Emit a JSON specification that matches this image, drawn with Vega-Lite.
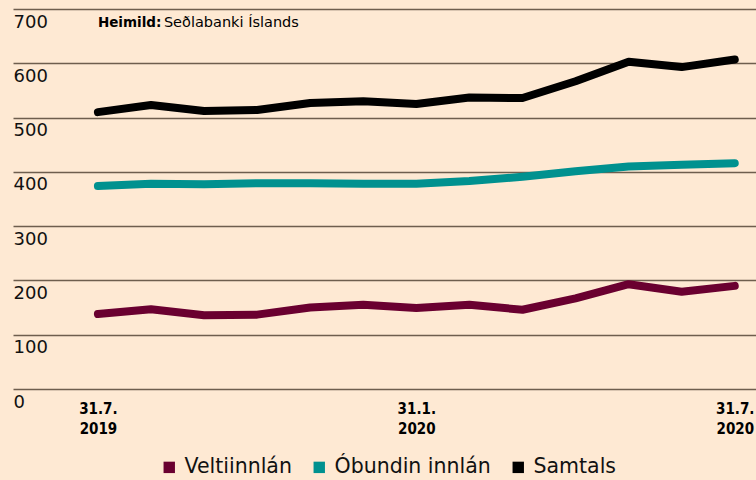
{
  "$schema": "https://vega.github.io/schema/vega-lite/v6.json",
  "width": 743,
  "height": 380,
  "autosize": {"type": "none"},
  "padding": {"left": 13, "top": 9, "right": 0, "bottom": 91},
  "background": "#fee9d3",
  "config": {"view": {"stroke": null}, "font": "DejaVu Sans"},
  "datasets": {
    "innlan": [
      {"m": 0, "dags": "31.7.2019", "flokkur": "Veltiinnlán", "ma": 138},
      {"m": 1, "dags": "31.8.2019", "flokkur": "Veltiinnlán", "ma": 147},
      {"m": 2, "dags": "30.9.2019", "flokkur": "Veltiinnlán", "ma": 136},
      {"m": 3, "dags": "31.10.2019", "flokkur": "Veltiinnlán", "ma": 137},
      {"m": 4, "dags": "30.11.2019", "flokkur": "Veltiinnlán", "ma": 150},
      {"m": 5, "dags": "31.12.2019", "flokkur": "Veltiinnlán", "ma": 155},
      {"m": 6, "dags": "31.1.2020", "flokkur": "Veltiinnlán", "ma": 149},
      {"m": 7, "dags": "29.2.2020", "flokkur": "Veltiinnlán", "ma": 155},
      {"m": 8, "dags": "31.3.2020", "flokkur": "Veltiinnlán", "ma": 146},
      {"m": 9, "dags": "30.4.2020", "flokkur": "Veltiinnlán", "ma": 167},
      {"m": 10, "dags": "31.5.2020", "flokkur": "Veltiinnlán", "ma": 193},
      {"m": 11, "dags": "30.6.2020", "flokkur": "Veltiinnlán", "ma": 179},
      {"m": 12, "dags": "31.7.2020", "flokkur": "Veltiinnlán", "ma": 190},
      {"m": 0, "dags": "31.7.2019", "flokkur": "Óbundin innlán", "ma": 374},
      {"m": 1, "dags": "31.8.2019", "flokkur": "Óbundin innlán", "ma": 378},
      {"m": 2, "dags": "30.9.2019", "flokkur": "Óbundin innlán", "ma": 377},
      {"m": 3, "dags": "31.10.2019", "flokkur": "Óbundin innlán", "ma": 379},
      {"m": 4, "dags": "30.11.2019", "flokkur": "Óbundin innlán", "ma": 379},
      {"m": 5, "dags": "31.12.2019", "flokkur": "Óbundin innlán", "ma": 378},
      {"m": 6, "dags": "31.1.2020", "flokkur": "Óbundin innlán", "ma": 378},
      {"m": 7, "dags": "29.2.2020", "flokkur": "Óbundin innlán", "ma": 383},
      {"m": 8, "dags": "31.3.2020", "flokkur": "Óbundin innlán", "ma": 391},
      {"m": 9, "dags": "30.4.2020", "flokkur": "Óbundin innlán", "ma": 401},
      {"m": 10, "dags": "31.5.2020", "flokkur": "Óbundin innlán", "ma": 410},
      {"m": 11, "dags": "30.6.2020", "flokkur": "Óbundin innlán", "ma": 413},
      {"m": 12, "dags": "31.7.2020", "flokkur": "Óbundin innlán", "ma": 416},
      {"m": 0, "dags": "31.7.2019", "flokkur": "Samtals", "ma": 510},
      {"m": 1, "dags": "31.8.2019", "flokkur": "Samtals", "ma": 523},
      {"m": 2, "dags": "30.9.2019", "flokkur": "Samtals", "ma": 512},
      {"m": 3, "dags": "31.10.2019", "flokkur": "Samtals", "ma": 514},
      {"m": 4, "dags": "30.11.2019", "flokkur": "Samtals", "ma": 527},
      {"m": 5, "dags": "31.12.2019", "flokkur": "Samtals", "ma": 530},
      {"m": 6, "dags": "31.1.2020", "flokkur": "Samtals", "ma": 525},
      {"m": 7, "dags": "29.2.2020", "flokkur": "Samtals", "ma": 537},
      {"m": 8, "dags": "31.3.2020", "flokkur": "Samtals", "ma": 536},
      {"m": 9, "dags": "30.4.2020", "flokkur": "Samtals", "ma": 567},
      {"m": 10, "dags": "31.5.2020", "flokkur": "Samtals", "ma": 603},
      {"m": 11, "dags": "30.6.2020", "flokkur": "Samtals", "ma": 593},
      {"m": 12, "dags": "31.7.2020", "flokkur": "Samtals", "ma": 607}
    ],
    "heimild": [{"label": "Heimild:", "text": "Seðlabanki Íslands"}]
  },
  "layer": [
    {
      "data": {"name": "innlan"},
      "mark": {"type": "line", "strokeWidth": 8, "strokeCap": "round", "strokeJoin": "round"},
      "encoding": {
        "x": {
          "field": "m",
          "type": "quantitative",
          "scale": {"domain": [-1.6, 12.4], "nice": false, "zero": false},
          "axis": {
            "values": [0, 6, 12],
            "labelExpr": "datum.value == 0 ? ['31.7.', '2019'] : datum.value == 6 ? ['31.1.', '2020'] : ['31.7.', '2020']",
            "domain": false,
            "ticks": false,
            "grid": false,
            "labelFont": "DejaVu Sans Condensed",
            "labelFontWeight": "bold",
            "labelFontSize": 15,
            "labelLineHeight": 20,
            "labelPadding": 12,
            "labelColor": "#000000",
            "labelBaseline": "top",
            "title": null,
            "labelFlush": false,
            "labelOverlap": false,
            "labelBound": false
          }
        },
        "y": {
          "field": "ma",
          "type": "quantitative",
          "scale": {"domain": [0, 700], "nice": false},
          "axis": {
            "values": [0, 100, 200, 300, 400, 500, 600, 700],
            "grid": true,
            "gridColor": "#6e5e4e",
            "gridWidth": 1.3,
            "domain": false,
            "ticks": false,
            "tickSize": 0,
            "labelAlign": "left",
            "labelBaseline": "top",
            "labelPadding": 0,
            "labelOffset": 4,
            "labelFont": "DejaVu Sans",
            "labelFontSize": 18,
            "labelColor": "#111111",
            "title": null,
            "labelOverlap": false,
            "labelBound": false,
            "labelFlush": false
          }
        },
        "color": {
          "field": "flokkur",
          "type": "nominal",
          "scale": {"domain": ["Veltiinnlán", "Óbundin innlán", "Samtals"], "range": ["#6a0030", "#00918f", "#000000"]},
          "legend": {
            "title": null,
            "orient": "none",
            "legendX": 146,
            "legendY": 448,
            "direction": "horizontal",
            "symbolType": "square",
            "symbolSize": 130,
            "symbolStrokeWidth": 0,
            "labelFont": "DejaVu Sans",
            "labelFontSize": 20.5,
            "labelColor": "#111111",
            "labelOffset": 5,
            "labelLimit": 0,
            "columnPadding": 17,
            "padding": 0,
            "encode": {"symbols": {"update": {"fill": {"scale": "color", "field": "value"}, "fillOpacity": {"value": 1}}}}
          }
        }
      }
    },
    {
      "data": {"name": "heimild"},
      "mark": {"type": "text", "fontWeight": "bold", "fontSize": 13.5, "align": "left", "baseline": "alphabetic", "font": "DejaVu Sans", "color": "#000000"},
      "encoding": {"x": {"datum": 0}, "y": {"datum": 666}, "text": {"field": "label"}}
    },
    {
      "data": {"name": "heimild"},
      "mark": {"type": "text", "fontSize": 14.5, "align": "left", "baseline": "alphabetic", "dx": 66, "font": "DejaVu Sans", "color": "#000000"},
      "encoding": {"x": {"datum": 0}, "y": {"datum": 666}, "text": {"field": "text"}}
    }
  ]
}
